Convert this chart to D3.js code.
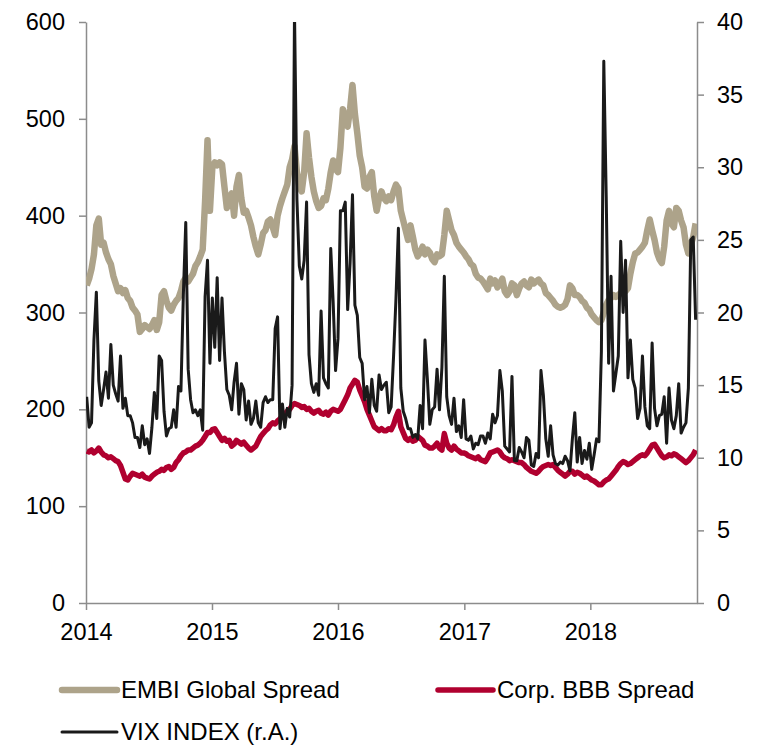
<!DOCTYPE html>
<html>
<head>
<meta charset="utf-8">
<script src="https://cdn.jsdelivr.net/npm/d3@7"></script>
<style>
  body { margin: 0; background: #fff; }
  text { font-family: "Liberation Sans", Arial, sans-serif; fill: #000; }
</style>
</head>
<body>
<div id="chart"></div>
<script>
// weekly observations, first one on 2014-01-03 (Fridays)
var firstWeek = new Date(2014, 0, 3);

// EMBI Global Spread (bp, left axis)
var embi = [
  // 2014
  328,335,345,360,390,397,370,372,362,355, 350,338,330,322,325,320,323,315,312,305,
  302,298,280,283,287,285,283,287,292,282, 290,318,322,312,305,302,308,312,315,322,
  332,336,332,336,340,348,352,358,365,415, 478,405,
  // 2015
  450,455,452,455,453,430,408,418,423,400, 430,442,418,403,405,398,390,378,368,360,
  370,382,385,394,396,388,380,400,410,418, 425,432,450,458,472,445,430,425,445,485,
  460,440,425,415,408,410,418,416,428,445, 457,448,
  // 2016
  445,470,510,500,492,510,535,505,485,462, 450,430,428,440,445,420,405,418,425,418,
  415,420,416,425,432,428,405,395,385,375, 390,378,365,358,362,368,360,365,362,355,
  352,360,358,360,380,405,395,385,380,372, 368,365,
  // 2017
  362,358,355,350,348,340,336,335,332,328, 324,335,330,333,326,330,335,322,318,322,
  330,328,318,325,330,332,328,326,334,330, 332,334,330,328,320,318,315,312,308,306,
  305,306,308,314,328,325,318,318,316,312, 310,305,
  // 2018
  303,298,295,292,290,292,300,308,313,315, 318,316,318,320,322,322,325,340,352,361,
  362,365,368,372,385,396,385,375,362,355, 351,368,395,405,392,388,408,405,395,388,
  370,361,370,378,392
];

// Corp. BBB Spread (bp, left axis)
var bbb = [
  // 2014
  157,156,158,155,157,160,156,153,152,150, 151,149,147,146,142,135,128,127,131,134,
  133,132,131,133,130,129,128,131,133,135, 136,138,137,140,141,138,140,145,148,152,
  155,156,158,158,160,162,163,165,168,172, 176,176,
  // 2015
  179,180,176,172,168,170,167,168,162,164, 168,166,164,166,163,160,158,160,162,167,
  172,175,178,180,184,186,185,188,190,194, 195,198,200,204,206,205,204,202,203,200,
  201,198,196,198,199,196,195,197,194,198, 200,199,
  // 2016
  198,200,205,210,215,222,226,230,228,220, 214,208,200,194,188,182,180,178,180,178,
  178,180,179,184,192,198,182,176,170,168, 170,167,168,172,170,168,163,162,160,160,
  162,165,160,158,175,165,160,158,162,159, 157,155,
  // 2017
  155,154,152,151,150,149,151,148,147,146, 150,155,156,157,158,156,152,150,149,147,
  148,147,146,145,145,143,140,138,136,135, 134,136,139,141,142,143,142,143,140,137,
  135,133,131,133,136,136,133,135,134,132, 130,131,
  // 2018
  129,127,126,124,122,122,125,127,128,131, 134,137,141,144,146,145,143,144,146,148,
  150,152,153,152,155,159,163,164,160,156, 152,150,151,153,152,154,153,151,149,147,
  145,147,150,153,158
];

// VIX INDEX (right axis)
var vix = [
  // 2014
  14.2,12.1,12.4,18.1,21.4,15.3,13.6,14.7,15.9,14.1, 17.8,15.0,14.4,13.9,17.0,13.4,14.1,12.9,12.9,12.4,
  11.4,11.4,10.7,12.2,10.9,11.3,10.3,12.1,14.5,12.7, 17.0,16.7,13.2,11.5,12.0,12.1,13.3,12.1,14.9,14.6,
  21.2,26.2,16.1,14.0,13.1,13.3,12.9,13.3,11.9,21.1, 23.6,16.5,
  // 2015
  21.0,17.6,22.4,16.7,21.0,17.3,14.7,14.3,13.3,15.2, 16.5,13.0,15.1,14.7,12.6,13.9,12.3,12.7,13.9,12.4,
  12.1,13.8,14.2,13.8,14.0,14.0,18.9,19.7,12.0,13.7, 12.1,13.4,12.8,15.0,40.7,27.8,23.2,22.3,23.6,27.6,
  17.1,15.1,14.5,15.1,14.3,20.1,15.5,15.1,14.8,24.4, 20.7,16.0,
  // 2016
  18.2,27.0,27.0,27.6,20.2,23.4,28.1,20.5,19.8,16.9, 16.5,14.0,14.9,13.1,15.4,13.6,13.2,15.7,14.7,15.0,
  15.2,13.1,13.5,17.0,21.0,25.8,14.8,13.2,12.7,12.0, 12.0,11.4,11.6,11.3,13.6,12.0,18.1,15.4,12.3,13.3,
  13.5,16.1,13.3,16.2,22.5,14.2,12.9,12.3,14.1,11.8, 12.2,11.4,
  // 2017
  14.0,11.3,11.2,11.5,10.6,11.0,10.9,11.5,11.5,11.0, 11.7,11.3,13.0,12.4,12.9,16.0,14.6,10.8,10.6,10.4,
  15.6,9.8,9.8,10.7,10.4,10.0,11.4,11.2,9.5,9.4, 10.3,10.0,16.0,14.3,11.3,10.1,12.2,10.2,9.6,9.5,
  9.7,9.6,10.1,9.8,9.1,11.3,13.1,9.7,11.4,9.6, 10.5,9.9,
  // 2018
  11.0,9.2,10.2,11.3,11.1,17.3,37.3,28.0,16.5,22.5, 14.6,15.8,17.0,24.9,20.0,23.6,15.5,18.1,15.4,14.8,
  12.7,13.4,17.0,13.5,12.2,12.0,17.9,13.4,12.2,12.9, 13.0,14.2,11.0,14.8,12.6,12.0,12.9,15.1,11.7,12.1,
  12.4,14.8,25.0,25.2,19.5
];

var leftTicks = [0, 100, 200, 300, 400, 500, 600];
var rightTicks = [0, 5, 10, 15, 20, 25, 30, 35, 40];
var yearTicks = [2014, 2015, 2016, 2017, 2018];

var seriesNames = ["EMBI Global Spread", "Corp. BBB Spread", "VIX INDEX (r.A.)"];
var seriesColors = ["#ada38a", "#b0002f", "#1a1a1a"];
var seriesWidths = [6.5, 5.5, 3];

var dates = vix.map(function(v, i) { return d3.timeDay.offset(firstWeek, 7 * i); });

var svgWidth = 763, svgHeight = 746;
var margin = { top: 22, right: 66, bottom: 143, left: 86 };
var chartWidth = svgWidth - margin.left - margin.right;
var chartHeight = svgHeight - margin.top - margin.bottom;

var svg = d3.select("#chart").append("svg")
  .attr("width", svgWidth)
  .attr("height", svgHeight);

var chartGroup = svg.append("g")
  .attr("transform", `translate(${margin.left}, ${margin.top})`);

svg.append("defs").append("clipPath").attr("id", "plot")
  .append("rect").attr("width", chartWidth).attr("height", chartHeight);

var xScale = d3.scaleTime()
  .domain([new Date(2014, 0, 1), new Date(2018, 10, 6)])
  .range([0, chartWidth]);
var yLeft = d3.scaleLinear().domain([0, 600]).range([chartHeight, 0]);
var yRight = d3.scaleLinear().domain([0, 40]).range([chartHeight, 0]);

function styleAxis(g) {
  g.selectAll("path, line").attr("stroke", "#8c8c8c").attr("stroke-width", 1.5);
  g.selectAll("text").attr("font-size", 23.5).attr("font-family", "Liberation Sans, Arial, sans-serif");
}

chartGroup.append("g")
  .call(d3.axisLeft(yLeft).tickValues(leftTicks).tickSize(7).tickSizeOuter(0).tickPadding(14))
  .call(styleAxis);

chartGroup.append("g")
  .attr("transform", `translate(${chartWidth}, 0)`)
  .call(d3.axisRight(yRight).tickValues(rightTicks).tickSize(7).tickSizeOuter(0).tickPadding(13))
  .call(styleAxis);

chartGroup.append("g")
  .attr("transform", `translate(0, ${chartHeight})`)
  .call(d3.axisBottom(xScale)
    .tickValues(yearTicks.map(function(y) { return new Date(y, 0, 1); }))
    .tickFormat(d3.timeFormat("%Y"))
    .tickSize(7).tickSizeOuter(0).tickPadding(13))
  .call(styleAxis);

var plot = chartGroup.append("g").attr("clip-path", "url(#plot)");

var lineLeft = d3.line()
  .x(function(d, i) { return xScale(dates[i]); })
  .y(function(d) { return yLeft(d); });
var lineRight = d3.line()
  .x(function(d, i) { return xScale(dates[i]); })
  .y(function(d) { return yRight(d); });

plot.append("path")
  .attr("d", lineLeft(embi))
  .attr("fill", "none")
  .attr("stroke", seriesColors[0])
  .attr("stroke-width", seriesWidths[0])
  .attr("stroke-linejoin", "round");

plot.append("path")
  .attr("d", lineLeft(bbb))
  .attr("fill", "none")
  .attr("stroke", seriesColors[1])
  .attr("stroke-width", seriesWidths[1])
  .attr("stroke-linejoin", "round");

plot.append("path")
  .attr("d", lineRight(vix))
  .attr("fill", "none")
  .attr("stroke", seriesColors[2])
  .attr("stroke-width", seriesWidths[2])
  .attr("stroke-linejoin", "round");

// legend
var legendPos = [[62, 690], [438, 690], [62, 732]];
var legend = svg.selectAll(".legend")
  .data(seriesNames)
  .enter()
  .append("g")
  .attr("class", "legend")
  .attr("transform", function(d, i) { return `translate(${legendPos[i][0]}, ${legendPos[i][1]})`; });

legend.append("line")
  .attr("x1", 0).attr("x2", 55)
  .attr("stroke", function(d, i) { return seriesColors[i]; })
  .attr("stroke-width", function(d, i) { return seriesWidths[i]; })
  .attr("stroke-linecap", "round");

legend.append("text")
  .attr("x", 59)
  .attr("dy", "0.35em")
  .attr("font-size", 24)
  .text(function(d) { return d; });
</script>
</body>
</html>
